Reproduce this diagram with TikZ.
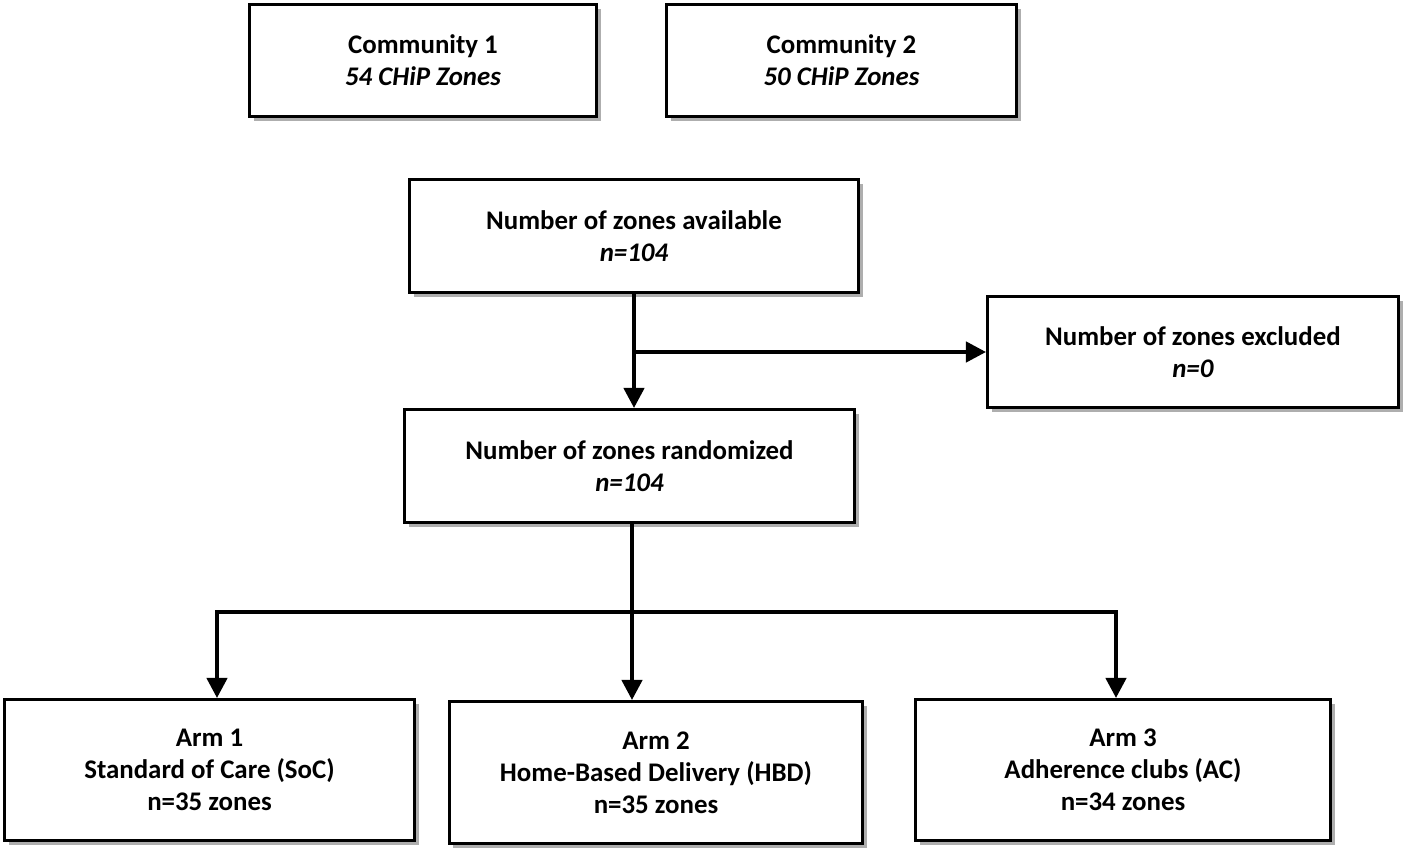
\documentclass[tikz,border=0pt]{standalone}
\usepackage{fontspec}
\setmainfont{Carlito}
\usetikzlibrary{arrows.meta,shadows}
\tikzset{
  zonebox/.style={draw, line width=1.7pt, fill=white, align=center, font=\fontsize{15.3}{18.2}\selectfont\bfseries,
    drop shadow={shadow xshift=2.5pt, shadow yshift=-2.5pt, opacity=0.45, fill=black!70}},
  flow/.style={line width=2.4pt, -{Triangle[length=11.5pt,width=11.5pt]}}
}
\begin{document}
\begin{tikzpicture}[x=0.02cm,y=-0.02cm]
\useasboundingbox (0,0) rectangle (1418,862);
\node[zonebox, minimum width=6.94cm, minimum height=2.24cm] (comm1) at (423,60.5){Community 1\\\textit{54 CHiP Zones}};
\node[zonebox, minimum width=7cm, minimum height=2.24cm] (comm2) at (841.5,60.5){Community 2\\\textit{50 CHiP Zones}};
\node[zonebox, minimum width=8.98cm, minimum height=2.26cm] (avail) at (634,236){Number of zones available\\\textit{n=104}};
\node[zonebox, minimum width=8.22cm, minimum height=2.22cm] (excl) at (1193,352){Number of zones excluded\\\textit{n=0}};
\node[zonebox, minimum width=9cm, minimum height=2.26cm] (rand) at (629.5,466){Number of zones randomized\\\textit{n=104}};
\node[zonebox, minimum width=8.2cm, minimum height=2.82cm] (arm1) at (209.5,770){Arm 1\\Standard of Care (SoC)\\n=35 zones};
\node[zonebox, minimum width=8.28cm, minimum height=2.84cm] (arm2) at (656,772.5){Arm 2\\Home-Based Delivery (HBD)\\n=35 zones};
\node[zonebox, minimum width=8.3cm, minimum height=2.82cm] (arm3) at (1123,770){Arm 3\\Adherence clubs (AC)\\n=34 zones};

\coordinate (split1) at (634,352);
\coordinate (split2) at (632,612);
\draw[flow] (avail.south -| split1) -- (rand.north -| split1);
\draw[flow] (split1) -- (excl.west);
\draw[line width=2.4pt] (rand.south -| split2) -- (split2);
\draw[flow] (split2) -| (arm1.north -| 217,0);
\draw[flow] (split2) -- (arm2.north -| split2);
\draw[flow] (split2) -| (arm3.north -| 1116,0);

\end{tikzpicture}
\end{document}
